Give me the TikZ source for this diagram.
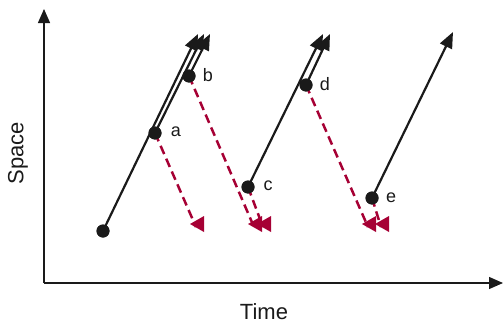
\documentclass[tikz,border=0pt]{standalone}
\usepackage{fontspec}
\setmainfont{Liberation Sans}
\usetikzlibrary{arrows.meta}
\definecolor{wine}{RGB}{166,0,52}
\definecolor{ink}{RGB}{26,26,26}
\begin{document}
\begin{tikzpicture}[x=1pt,y=-1pt,
  dot/.style={circle,fill=ink,inner sep=0pt,minimum size=13pt},
  lbl/.style={font=\fontsize{18}{20}\selectfont,text=ink,inner sep=0pt},
  axlbl/.style={font=\fontsize{22}{26}\selectfont,text=ink,inner sep=0pt},
  axis/.style={draw=ink,line width=1.3pt,-{Triangle[length=14pt,width=12pt]}},
  signal/.style={draw=ink,line width=2.2pt,-{Triangle[length=16pt,width=13pt]},shorten <=-1pt},
  echo/.style={draw=wine,line width=2.5pt,dash pattern=on 9pt off 5pt},
  tri/.style={fill=wine}]
\useasboundingbox (0,0) rectangle (503,324);
% axes
\coordinate (O) at (44,283);
\coordinate (Ytop) at (44,9);
\coordinate (Xend) at (503,283);
\draw[axis] (O) -- (Ytop);
\draw[axis] (O) -- (Xend);
\node[axlbl,rotate=90] (space) at (18,153) {Space};
\node[axlbl] (time) at (264,312) {Time};
% dots
\node[dot] (s) at (103,231) {};
\node[dot] (a) at (155,133) {};
\node[dot] (b) at (189,76) {};
\node[dot] (c) at (248,187) {};
\node[dot] (d) at (306,85) {};
\node[dot] (e) at (372,198) {};
\node[lbl] (la) at (176,132) {a};
\node[lbl] (lb) at (208,75) {b};
\node[lbl] (lc) at (268,186) {c};
\node[lbl] (ld) at (325,84) {d};
\node[lbl] (le) at (391,198) {e};
% arrow tip targets
\coordinate (t1) at (198,34);
\coordinate (t2) at (204,34);
\coordinate (t3) at (210,34);
\coordinate (t4) at (323,34);
\coordinate (t5) at (330,34);
\coordinate (t6) at (453,32);
% red echo targets (triangle tips)
\coordinate (r1) at (190,224);
\coordinate (r2) at (248,224);
\coordinate (r3) at (257,224);
\coordinate (r4) at (362,224);
\coordinate (r5) at (375,224);
% dashed echoes
\draw[echo] (a.center) -- ([xshift=6pt,yshift=-3pt]r1);
\draw[echo] (b.center) -- ([xshift=6pt,yshift=-3pt]r2);
\draw[echo] (c.center) -- ([xshift=6pt,yshift=-3pt]r3);
\draw[echo] (d.center) -- ([xshift=6pt,yshift=-3pt]r4);
\draw[echo] (e.center) -- ([xshift=6pt,yshift=-3pt]r5);
\foreach \r in {r1,r2,r3,r4,r5}
  \fill[tri] (\r) -- ++(14,-8) -- ++(0,16) -- cycle;
% signals
\draw[signal] (s.center) -- (t1);
\draw[signal] (a.center) -- (t2);
\draw[signal] (b.center) -- (t3);
\draw[signal] (c.center) -- (t4);
\draw[signal] (d.center) -- (t5);
\draw[signal] (e.center) -- (t6);
% redraw dots on top
\foreach \n in {s,a,b,c,d,e}
  \fill[ink] (\n) circle (6.5pt);
\end{tikzpicture}
\end{document}
